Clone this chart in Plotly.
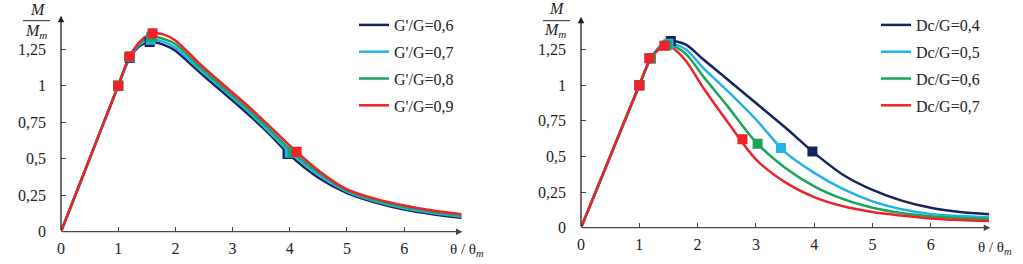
import plotly.graph_objects as go

# ---------------- data ----------------
# Left panel: G'/G series
left_x = [0, 0.5, 1, 1.2, 1.4, 1.6, 1.8, 2.0, 2.4, 2.8, 3.2, 3.6, 4.0, 4.5, 5.0, 5.5, 6.0, 6.5, 7.0]
left_g06 = [0, 0.5, 1, 1.19, 1.28, 1.30, 1.28, 1.24, 1.10, 0.965, 0.83, 0.685, 0.525, 0.37, 0.265, 0.20, 0.152, 0.12, 0.096]
left_g07 = [0, 0.5, 1, 1.195, 1.29, 1.315, 1.30, 1.26, 1.12, 0.985, 0.85, 0.70, 0.545, 0.39, 0.275, 0.208, 0.16, 0.128, 0.104]
left_g08 = [0, 0.5, 1, 1.20, 1.30, 1.335, 1.32, 1.285, 1.14, 1.0, 0.865, 0.72, 0.565, 0.405, 0.283, 0.216, 0.17, 0.137, 0.112]
left_g09 = [0, 0.5, 1, 1.20, 1.31, 1.36, 1.35, 1.31, 1.16, 1.02, 0.885, 0.74, 0.59, 0.42, 0.29, 0.225, 0.18, 0.145, 0.12]

left_mx_g06 = [1, 1.2, 1.55, 3.96]
left_my_g06 = [1, 1.19, 1.30, 0.532]
left_mx_g07 = [1, 1.2, 1.57, 4.0]
left_my_g07 = [1, 1.195, 1.315, 0.54]
left_mx_g08 = [1, 1.2, 1.58, 4.05]
left_my_g08 = [1, 1.2, 1.335, 0.545]
left_mx_g09 = [1, 1.2, 1.6, 4.12]
left_my_g09 = [1, 1.2, 1.36, 0.548]

# Right panel: Dc/G series
right_x = [0, 0.5, 1, 1.2, 1.4, 1.55, 1.8, 2.1, 2.5, 3.0, 3.5, 4.0, 4.5, 5.0, 5.5, 6.0, 6.5, 7.0]
right_d04 = [0, 0.5, 1, 1.19, 1.285, 1.31, 1.285, 1.18, 1.045, 0.875, 0.705, 0.525, 0.37, 0.265, 0.19, 0.14, 0.11, 0.094]
right_d05 = [0, 0.5, 1, 1.19, 1.28, 1.29, 1.25, 1.12, 0.965, 0.76, 0.53, 0.385, 0.27, 0.185, 0.13, 0.097, 0.082, 0.073]
right_d06 = [0, 0.5, 1, 1.19, 1.275, 1.28, 1.22, 1.06, 0.86, 0.60, 0.42, 0.29, 0.20, 0.14, 0.103, 0.08, 0.068, 0.061]
right_d07 = [0, 0.5, 1, 1.19, 1.27, 1.265, 1.17, 0.98, 0.75, 0.48, 0.32, 0.215, 0.15, 0.11, 0.085, 0.065, 0.054, 0.047]

right_mx_d04 = [1, 1.2, 1.54, 3.97]
right_my_d04 = [1, 1.19, 1.31, 0.535]
right_mx_d05 = [1, 1.2, 1.5, 3.43]
right_my_d05 = [1, 1.19, 1.29, 0.56]
right_mx_d06 = [1, 1.2, 1.47, 3.03]
right_my_d06 = [1, 1.19, 1.28, 0.59]
right_mx_d07 = [1, 1.17, 1.43, 2.77]
right_my_d07 = [1, 1.19, 1.277, 0.62]

left_names = ["G'/G=0,6", "G'/G=0,7", "G'/G=0,8", "G'/G=0,9"]
right_names = ["Dc/G=0,4", "Dc/G=0,5", "Dc/G=0,6", "Dc/G=0,7"]

x_tickvals = [0, 1, 2, 3, 4, 5, 6]
x_ticktext = ["0", "1", "2", "3", "4", "5", "6"]
y_tickvals = [0, 0.25, 0.5, 0.75, 1, 1.25]
y_ticktext = ["0", "0,25", "0,5", "0,75", "1", "1,25"]

colors = ["#16245e", "#22b2e6", "#1aa55a", "#ee2228"]

# ---------------- figure ----------------
W, H = 1023, 264
SERIF = "Liberation Serif"
fig = go.Figure()

left_y = [left_g06, left_g07, left_g08, left_g09]
left_m = [(left_mx_g06, left_my_g06), (left_mx_g07, left_my_g07),
          (left_mx_g08, left_my_g08), (left_mx_g09, left_my_g09)]
right_y = [right_d04, right_d05, right_d06, right_d07]
right_m = [(right_mx_d04, right_my_d04), (right_mx_d05, right_my_d05),
           (right_mx_d06, right_my_d06), (right_mx_d07, right_my_d07)]

for i in range(4):
    fig.add_trace(go.Scatter(x=left_x, y=left_y[i], mode="lines", name=left_names[i],
                             line=dict(color=colors[i], width=2.5, shape="spline", smoothing=0.8),
                             legend="legend", legendgroup="L%d" % i, xaxis="x", yaxis="y"))
for i in range(4):
    fig.add_trace(go.Scatter(x=left_m[i][0], y=left_m[i][1], mode="markers", showlegend=False,
                             marker=dict(symbol="square", size=10, color=colors[i]),
                             xaxis="x", yaxis="y"))
for i in range(4):
    fig.add_trace(go.Scatter(x=right_x, y=right_y[i], mode="lines", name=right_names[i],
                             line=dict(color=colors[i], width=2.5, shape="spline", smoothing=0.8),
                             legend="legend2", legendgroup="R%d" % i, xaxis="x2", yaxis="y2"))
for i in range(4):
    fig.add_trace(go.Scatter(x=right_m[i][0], y=right_m[i][1], mode="markers", showlegend=False,
                             marker=dict(symbol="square", size=10, color=colors[i]),
                             xaxis="x2", yaxis="y2"))

tickfont = dict(family=SERIF, size=16, color="#222")
xcommon = dict(range=[0, 7.1], tickvals=x_tickvals, ticktext=x_ticktext, ticks="inside",
               ticklen=5, tickcolor="#444", showgrid=False, zeroline=False, showline=False,
               tickfont=tickfont, ticklabelstandoff=5, fixedrange=True, automargin=False)
ycommon = dict(range=[0, 1.52], tickvals=y_tickvals, ticktext=y_ticktext, ticks="inside",
               ticklen=5, tickcolor="#444", showgrid=False, zeroline=False, showline=False,
               tickfont=tickfont, ticklabelstandoff=14, fixedrange=True, automargin=False)

fig.update_layout(
    width=W, height=H, margin=dict(l=0, r=0, t=0, b=0, autoexpand=False),
    paper_bgcolor="white", plot_bgcolor="white", separators=", ",
    xaxis=dict(domain=[61 / W, 467.1 / W], anchor="y", **xcommon),
    yaxis=dict(domain=[(H - 231.7) / H, (H - 9.8) / H], anchor="x", **ycommon),
    xaxis2=dict(domain=[581 / W, 994.9 / W], anchor="y2", **xcommon),
    yaxis2=dict(domain=[(H - 227.7) / H, (H - 11.1) / H], anchor="x2", **ycommon),
    legend=dict(x=354 / W, y=1 - 8 / H, xanchor="left", yanchor="top", tracegroupgap=3,
                font=dict(family=SERIF, size=16, color="#222"), bgcolor="rgba(0,0,0,0)"),
    legend2=dict(x=876 / W, y=1 - 8 / H, xanchor="left", yanchor="top", tracegroupgap=3,
                 font=dict(family=SERIF, size=16, color="#222"), bgcolor="rgba(0,0,0,0)"),
    showlegend=True,
)

# axis lines with arrow heads
for xr, yr in (("x", "y"), ("x2", "y2")):
    fig.add_annotation(x=7.02, y=0, ax=0, ay=0, xref=xr, yref=yr, axref=xr, ayref=yr,
                       showarrow=True, arrowhead=2, arrowsize=1, arrowwidth=1.3,
                       arrowcolor="#444", text="")
    fig.add_annotation(x=0, y=1.48, ax=0, ay=0, xref=xr, yref=yr, axref=xr, ayref=yr,
                       showarrow=True, arrowhead=2, arrowsize=1, arrowwidth=1.3,
                       arrowcolor="#222", text="")

# y-axis titles as fractions M / M_m
for (cx_top, cy_top, lx0, lx1, ly, cx_bot, cy_bot) in ((38, 10, 23, 50, 20.7, 36, 31),
                                                      (557, 9, 543, 570, 20.7, 555, 30)):
    fig.add_annotation(x=cx_top / W, y=1 - cy_top / H, xref="paper", yref="paper",
                       xanchor="center", yanchor="middle",
                       text="<i>M</i>", showarrow=False,
                       font=dict(family=SERIF, size=16, color="#222"))
    fig.add_shape(type="line", xref="paper", yref="paper", x0=lx0 / W, x1=lx1 / W,
                  y0=1 - ly / H, y1=1 - ly / H, line=dict(color="#222", width=1))
    fig.add_annotation(x=cx_bot / W, y=1 - cy_bot / H, xref="paper", yref="paper",
                       xanchor="center", yanchor="middle",
                       text="<i>M<sub>m</sub></i>", showarrow=False,
                       font=dict(family=SERIF, size=16, color="#222"))

# x-axis titles
for cx, cy in ((467, 250), (995, 248)):
    fig.add_annotation(x=cx / W, y=1 - cy / H, xref="paper", yref="paper",
                       xanchor="center", yanchor="middle",
                       text="θ / θ<sub><i>m</i></sub>", showarrow=False,
                       font=dict(family=SERIF, size=15, color="#222"))

fig.write_html("out.html", config={"displayModeBar": False},
               post_script="document.body.style.margin='0px';document.body.style.padding='0px';")
